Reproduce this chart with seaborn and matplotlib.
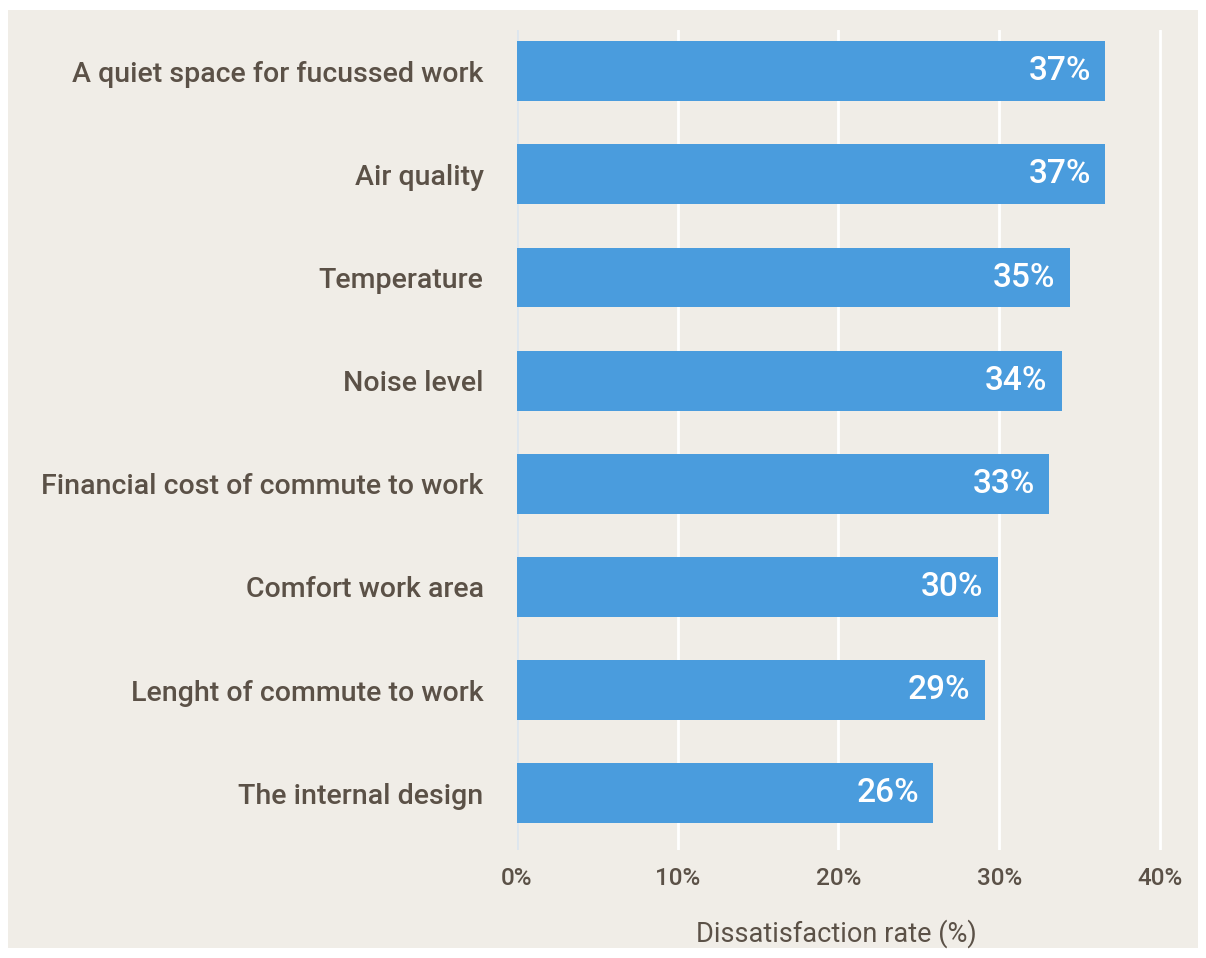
import matplotlib
matplotlib.use("Agg")
import matplotlib.pyplot as plt
import seaborn as sns
import pandas as pd
from matplotlib.patches import Rectangle

# Дані з графіка
categories = [
    "A quiet space for fucussed work",
    "Air quality",
    "Temperature",
    "Noise level",
    "Financial cost of commute to work",
    "Comfort work area",
    "Lenght of commute to work",
    "The internal design",
]
values = [36.6, 36.6, 34.4, 33.9, 33.1, 29.9, 29.1, 25.9]
labels = ["37%", "37%", "35%", "34%", "33%", "30%", "29%", "26%"]
xticks = [0, 10, 20, 30, 40]
xtick_labels = ["0%", "10%", "20%", "30%", "40%"]

df = pd.DataFrame({"factor": categories, "rate": values})

bg = "#f0ede7"
text_col = "#5b5147"
bar_col = "#4a9cdd"

sns.set_theme(style="white")
plt.rcParams["font.family"] = ["Roboto", "DejaVu Sans"]
plt.rcParams["font.weight"] = "medium"

fig = plt.figure(figsize=(12.06, 9.58), dpi=100, facecolor="white")
fig.patches.append(Rectangle((8 / 1206, 1 - 948 / 958), 1190 / 1206, 938 / 958,
                             transform=fig.transFigure, facecolor=bg,
                             edgecolor="none", zorder=-10))
ax = fig.add_axes([517 / 1206, 1 - 850 / 958, 651 / 1206, 820 / 958])
ax.set_facecolor("none")

sns.barplot(data=df, x="rate", y="factor", color=bar_col, saturation=1,
            width=0.58, linewidth=0, ax=ax, zorder=3)

ax.set_xlim(0, 40.5)
ax.set_ylim(7.55, -0.4)
ax.set_xticks(xticks)
ax.set_xticklabels(xtick_labels)
for x in xticks[1:]:
    ax.axvline(x, color="white", lw=2, zorder=1)
ax.axvline(0, color="#dde6ee", lw=2, zorder=2)

for i, (v, lab) in enumerate(zip(values, labels)):
    ax.text(v - 0.9, i, lab, color="white", ha="right", va="center",
            fontsize=24, fontweight="medium", zorder=4)

for s in ax.spines.values():
    s.set_visible(False)
ax.tick_params(axis="y", length=0, pad=24, labelsize=20.5, labelcolor=text_col)
ax.tick_params(axis="x", length=0, pad=12, labelsize=17.5, labelcolor=text_col)
ax.set_ylabel("")
ax.set_xlabel("Dissatisfaction rate (%)", fontsize=19.5, color=text_col)
ax.xaxis.set_label_coords(0.49, -0.085)

fig.savefig("out.png", dpi=100, facecolor="white")
